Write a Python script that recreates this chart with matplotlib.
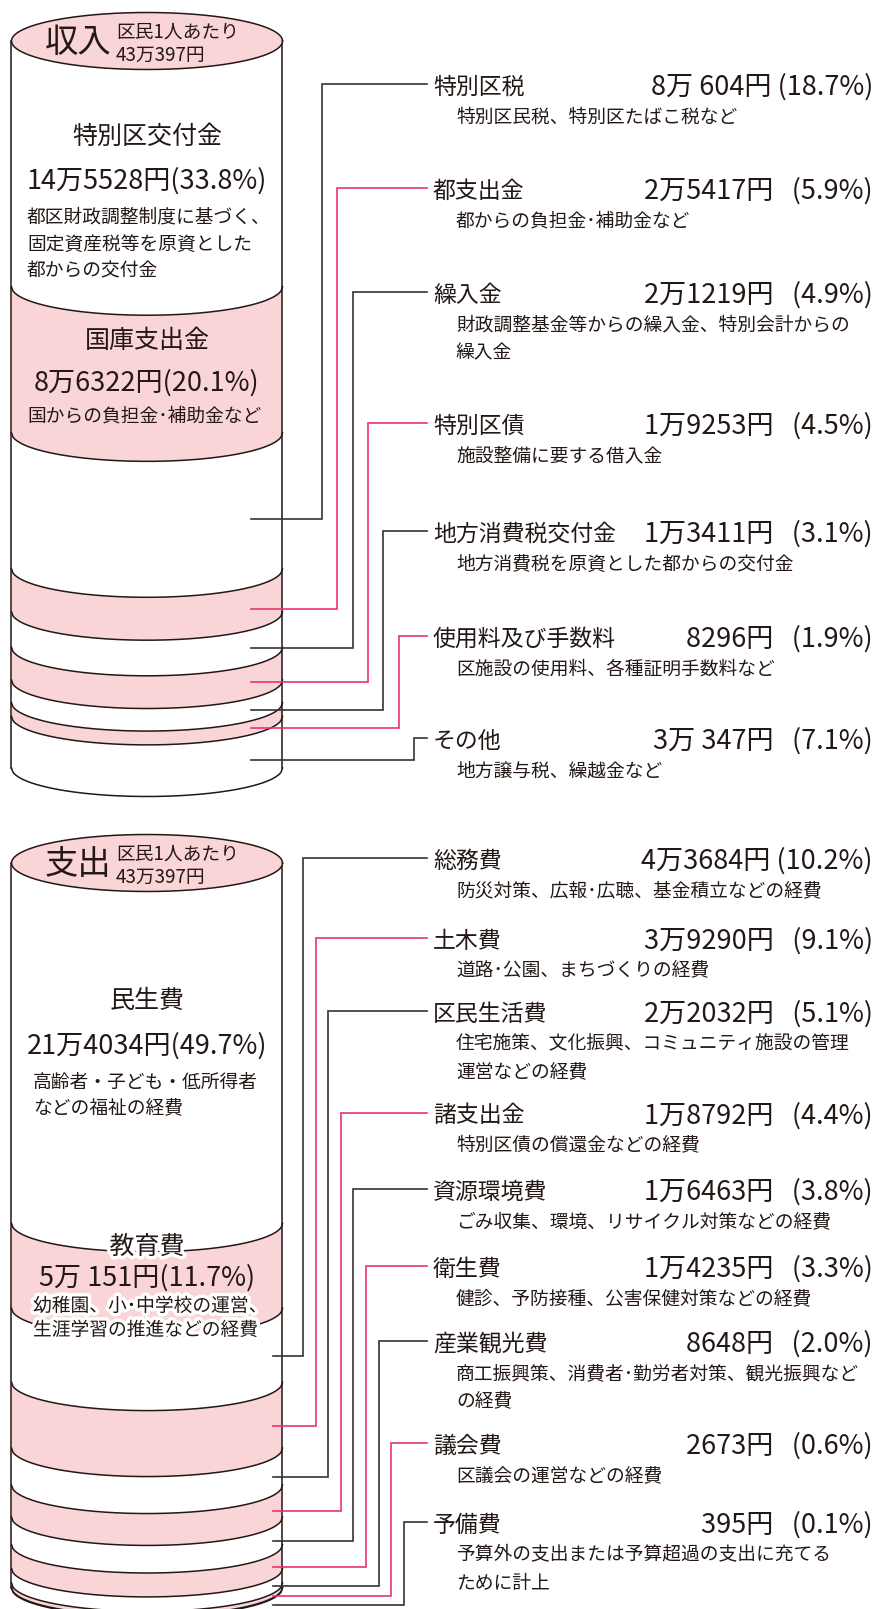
import numpy as np
import matplotlib
matplotlib.use("Agg")
import matplotlib.pyplot as plt
import matplotlib.patheffects as pe

plt.rcParams['font.family'] = ['Noto Sans CJK JP', 'DejaVu Sans']

# ---------------- data ----------------
# 収入 (revenue)
rev_names = ["特別区交付金", "国庫支出金", "特別区税", "都支出金", "繰入金", "特別区債",
             "地方消費税交付金", "使用料及び手数料", "その他"]
rev_amounts = ["14万5528円", "8万6322円", "8万 604円", "2万5417円", "2万1219円", "1万9253円",
               "1万3411円", "8296円", "3万 347円"]
rev_pcts = [33.8, 20.1, 18.7, 5.9, 4.9, 4.5, 3.1, 1.9, 7.1]
rev_descs = [
    ["都区財政調整制度に基づく、", "固定資産税等を原資とした", "都からの交付金"],
    ["国からの負担金･補助金など"],
    ["特別区民税、特別区たばこ税など"],
    ["都からの負担金･補助金など"],
    ["財政調整基金等からの繰入金、特別会計からの", "繰入金"],
    ["施設整備に要する借入金"],
    ["地方消費税を原資とした都からの交付金"],
    ["区施設の使用料、各種証明手数料など"],
    ["地方譲与税、繰越金など"],
]

# 支出 (expenditure)
exp_names = ["民生費", "教育費", "総務費", "土木費", "区民生活費", "諸支出金", "資源環境費",
             "衛生費", "産業観光費", "議会費", "予備費"]
exp_amounts = ["21万4034円", "5万 151円", "4万3684円", "3万9290円", "2万2032円", "1万8792円",
               "1万6463円", "1万4235円", "8648円", "2673円", "395円"]
exp_pcts = [49.7, 11.7, 10.2, 9.1, 5.1, 4.4, 3.8, 3.3, 2.0, 0.6, 0.1]
exp_descs = [
    ["高齢者・子ども・低所得者", "などの福祉の経費"],
    ["幼稚園、小･中学校の運営、", "生涯学習の推進などの経費"],
    ["防災対策、広報･広聴、基金積立などの経費"],
    ["道路･公園、まちづくりの経費"],
    ["住宅施策、文化振興、コミュニティ施設の管理", "運営などの経費"],
    ["特別区債の償還金などの経費"],
    ["ごみ収集、環境、リサイクル対策などの経費"],
    ["健診、予防接種、公害保健対策などの経費"],
    ["商工振興策、消費者･勤労者対策、観光振興など", "の経費"],
    ["区議会の運営などの経費"],
    ["予算外の支出または予算超過の支出に充てる", "ために計上"],
]

header_sub = ["区民1人あたり", "43万397円"]

# ---------------- style ----------------
PINK = "#FAD5D7"
PINK_LINE = "#E8336F"
DARK = "#231815"
LINE_DARK = "#333333"
DY = 3.0  # visual centring correction for CJK font metrics

W, H = 878, 1609
fig = plt.figure(figsize=(W / 100, H / 100), dpi=100)
ax = fig.add_axes([0, 0, 1, 1])
ax.set_xlim(0, W)
ax.set_ylim(H, 0)
ax.axis("off")

CX, A, B = 147.0, 135.5, 28.5


def T(x, y, s, size, ha="left", dy=DY, **kw):
    return ax.text(x, y + dy, s, fontsize=size, ha=ha, va="center", color=DARK, zorder=6, **kw)


def arc(y, n=200):
    x = np.linspace(CX - A, CX + A, n)
    return x, y + B * np.sqrt(np.clip(1 - ((x - CX) / A) ** 2, 0, 1))


def cylinder(top, height, pcts):
    bounds = top + height * np.concatenate([[0], np.cumsum(pcts)]) / 100.0
    colors = ["white" if i % 2 == 0 else PINK for i in range(len(pcts))]
    for i in range(len(pcts)):
        x1, y1 = arc(bounds[i])
        x2, y2 = arc(bounds[i + 1])
        xs = np.concatenate([[CX - A], x1, x2[::-1]])
        ys = np.concatenate([[bounds[i]], y1, y2[::-1]])
        ax.fill(xs, ys, color=colors[i], lw=0, zorder=1)
    for yb in bounds[1:]:
        x, y = arc(yb)
        ax.plot(x, y, color=DARK, lw=1.1, zorder=3)
    ax.plot([CX - A, CX - A], [top, bounds[-1]], color=DARK, lw=1.1, zorder=3)
    ax.plot([CX + A, CX + A], [top, bounds[-1]], color=DARK, lw=1.1, zorder=3)
    t = np.linspace(0, 2 * np.pi, 300)
    ax.fill(CX + A * np.cos(t), top + B * np.sin(t), color=PINK, lw=0, zorder=4)
    ax.plot(CX + A * np.cos(t), top + B * np.sin(t), color=DARK, lw=1.1, zorder=5)
    return bounds, colors


def header(top, title):
    T(78, top + 1, title, 24, ha="center", dy=0)
    T(116, top - 9, header_sub[0], 13.5, dy=0)
    T(116, top + 14, header_sub[1], 13.5, dy=0)


def amount_str(amt, pct, sep):
    return f"{amt}{sep}({pct:.1f}%)"


def leaders(bounds, colors, start_idx, xs, xvs, rows, names, amounts, pcts, descs, min_gap):
    off = B * np.sqrt(1 - ((xs - CX) / A) ** 2)
    prev = -1e9
    for j, k in enumerate(range(start_idx, len(pcts))):
        ys = (bounds[k] + bounds[k + 1]) / 2 + off
        ys = max(ys, prev + min_gap)
        prev = ys
        col = PINK_LINE if colors[k] == PINK else LINE_DARK
        xv = xvs[j]
        yr = rows[j]
        ax.plot([xs, xv, xv, 427], [ys, ys, yr, yr], color=col, lw=1.2, zorder=6,
                solid_joinstyle="miter")
        T(433, yr, names[k], 16.5)
        sep = " " if pcts[k] >= 10 else "   "
        T(873, yr, amount_str(amounts[k], pcts[k], sep), 19.5, ha="right")
        for m, line in enumerate(descs[k]):
            T(456, yr + 30 + 28 * m, line, 13.5)


# ---------------- revenue cylinder ----------------
rev_top, rev_h = 41.0, 727.0
rb, rc = cylinder(rev_top, rev_h, rev_pcts)
header(rev_top, "収入")

T(CX, 134, rev_names[0], 18, ha="center")
T(CX, 178, amount_str(rev_amounts[0], rev_pcts[0], ""), 19.5, ha="center")
for m, line in enumerate(rev_descs[0]):
    T(27, 214 + 27 * m, line, 13.5)
T(CX, 338, rev_names[1], 18, ha="center")
T(CX, 380, amount_str(rev_amounts[1], rev_pcts[1], ""), 19.5, ha="center")
T(27, 413, rev_descs[1][0], 13.5)

rev_rows = [84, 188, 292, 423, 531, 636, 738]
leaders(rb, rc, 2, 251.0, np.linspace(322, 414, 7), rev_rows,
        rev_names, rev_amounts, rev_pcts, rev_descs, 8)

# ---------------- expenditure cylinder ----------------
exp_top, exp_h = 863.0, 725.0
eb, ec = cylinder(exp_top, exp_h, exp_pcts)
header(exp_top, "支出")

halo = [pe.withStroke(linewidth=5, foreground="white")]
T(CX, 998, exp_names[0], 18, ha="center")
T(CX, 1043, amount_str(exp_amounts[0], exp_pcts[0], ""), 19.5, ha="center")
for m, line in enumerate(exp_descs[0]):
    T(33, 1079 + 27 * m, line, 13.5)
T(CX, 1244, exp_names[1], 18, ha="center", path_effects=halo)
T(CX, 1275, amount_str(exp_amounts[1], exp_pcts[1], ""), 19.5, ha="center")
for m, line in enumerate(exp_descs[1]):
    T(33, 1303 + 24 * m, line, 13.5, path_effects=halo)

exp_rows = [858, 938, 1011, 1113, 1189, 1266, 1341, 1443, 1522]
leaders(eb, ec, 2, 273.0, np.linspace(303, 404, 9), exp_rows,
        exp_names, exp_amounts, exp_pcts, exp_descs, 9)

fig.savefig("out.png", dpi=100)
